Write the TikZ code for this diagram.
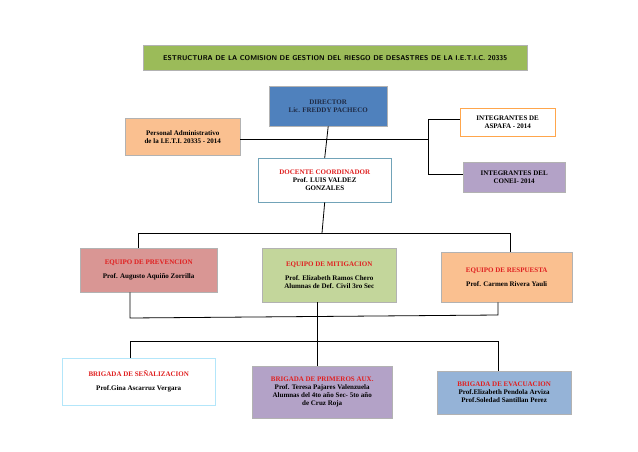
\documentclass[tikz,border=0pt]{standalone}
\usepackage{fontspec}
\setmainfont{Liberation Serif}
\usetikzlibrary{positioning}
\usetikzlibrary{shadows}

\definecolor{titgreen}{HTML}{9BBB59}
\definecolor{dirblue}{HTML}{4F81BD}
\definecolor{orangebox}{HTML}{FAC090}
\definecolor{redbox}{HTML}{D99694}
\definecolor{greenbox}{HTML}{C3D69B}
\definecolor{purplebox}{HTML}{B3A2C7}
\definecolor{bluebox}{HTML}{95B3D7}
\definecolor{navytext}{HTML}{1F2A44}
\definecolor{redtext}{HTML}{E02020}

\tikzset{
  box/.style={draw=gray!60, drop shadow={shadow xshift=1pt,shadow yshift=-1pt,opacity=0.4},
    font=\bfseries\fontsize{7}{8}\selectfont, align=center, anchor=north west, inner sep=2pt},
  link/.style={line width=0.8pt}
}

\begin{document}
\begin{tikzpicture}[x=1pt,y=-1pt]
            \useasboundingbox (0,0) rectangle (638,451);
            % title
            \node[box, fill=titgreen, minimum width=384pt, minimum height=25pt, font=\sffamily\bfseries\fontsize{7}{8}\selectfont] (title) at (143,45) {ESTRUCTURA DE LA COMISION DE GESTION DEL RIESGO DE DESASTRES DE LA I.E.T.I.C. 20335};
            % top level
            \node[box, fill=dirblue, text=navytext, minimum width=118pt, minimum height=40pt] (director) at (269,86) {DIRECTOR\\Lic. FREDDY PACHECO};
            \node[box, fill=orangebox, minimum width=115pt, minimum height=37pt] (personal) at (125,118) {Personal Administrativo\\de la I.E.T.I. 20335 - 2014};
            \node[box, fill=white, draw=cyan!40!gray, minimum width=133pt, minimum height=44pt] (docente) at (258,158) {\textcolor{redtext}{DOCENTE COORDINADOR}\\Prof. LUIS VALDEZ\\GONZALES};
            \node[box, fill=white, draw=orange!70, minimum width=95pt, minimum height=28pt] (aspafa) at (460,108) {INTEGRANTES DE\\ASPAFA - 2014};
            \node[box, fill=purplebox, minimum width=102pt, minimum height=30pt] (conei) at (463,162) {INTEGRANTES DEL\\CONEI- 2014};
            % equipos
            \node[box, fill=redbox, minimum width=137pt, minimum height=44pt] (prevencion) at (80,248) {\textcolor{redtext}{EQUIPO DE PREVENCION}\\[6pt]Prof. Augusto Aquiño Zorrilla};
            \node[box, fill=greenbox, minimum width=134pt, minimum height=54pt] (mitigacion) at (262,248) {\textcolor{redtext}{EQUIPO DE MITIGACION}\\[6pt]Prof. Elizabeth Ramos Chero\\Alumnas de Def. Civil 3ro Sec};
            \node[box, fill=orangebox, minimum width=131pt, minimum height=50pt] (respuesta) at (441,252) {\textcolor{redtext}{EQUIPO DE RESPUESTA}\\[6pt]Prof. Carmen Rivera Yauli};
            % brigadas
            \node[box, fill=white, draw=cyan!30, minimum width=153pt, minimum height=47pt] (senal) at (62,358) {\textcolor{redtext}{BRIGADA DE SEÑALIZACION}\\[6pt]Prof.Gina Ascarruz Vergara};
            \node[box, fill=purplebox, minimum width=140pt, minimum height=52pt] (primeros) at (252,366) {\textcolor{redtext}{BRIGADA DE PRIMEROS AUX.}\\Prof. Teresa Pajares Valenzuela\\Alumnas del 4to año Sec- 5to año\\de Cruz Roja};
            \node[box, fill=bluebox, minimum width=134pt, minimum height=43pt] (evacuacion) at (437,371) {\textcolor{redtext}{BRIGADA DE EVACUACION}\\Prof.Elizabeth Pendola Arviza\\Prof.Soledad Santillan Perez};
            % connectors
            \coordinate (hub) at (428,139);
            \draw[link] (personal.east |- hub) -- (hub);
            \draw[link] (director.south) -- (docente.north);
            \draw[link] (aspafa.west |- 0,119) -- (428,119) -- (428,174) -- (conei.west |- 0,174);
            \draw[link] (docente.south) -- (322,233);
            \draw[link] (prevencion.north -| 138,0) -- (138,233) -- (510,233) -- (respuesta.north -| 510,0);
            \draw[link] (prevencion.south -| 130,0) -- (130,318) -- (498,315) -- (respuesta.south -| 498,0);
            \draw[link] (mitigacion.south -| 317,0) -- (primeros.north -| 317,0);
            \draw[link] (senal.north -| 130,0) -- (130,341) -- (498,341) -- (evacuacion.north -| 498,0);
        \end{tikzpicture}
\end{document}
